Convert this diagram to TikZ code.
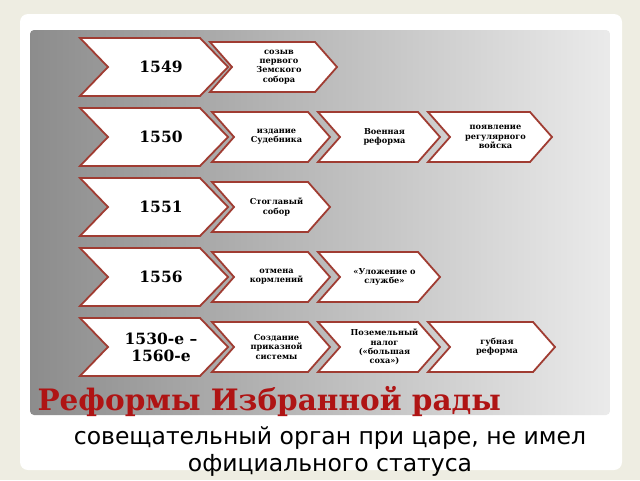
\documentclass[tikz,border=0pt]{standalone}
\usepackage{fontspec}
\setmainfont{DejaVu Serif}
\newfontfamily\subfont{DejaVu Sans}
\begin{document}
\begin{tikzpicture}[x=1pt,y=-1pt,
  chevline/.style={draw={rgb,255:red,160;green,60;blue,50},line width=1.8pt,fill=white,line join=miter},
  yeartext/.style={font=\bfseries\fontsize{15.5}{17}\selectfont,align=center},
  smalltext/.style={font=\bfseries\fontsize{8.2}{9.3}\selectfont,align=center}]
\useasboundingbox (0,0) rectangle (640,480);
\fill[black!8!white!95!yellow] (0,0) rectangle (640,480);
\fill[white,rounded corners=8pt] (20,14) rectangle (622,470);
\shade[left color=black!45,right color=black!8,rounded corners=4pt] (30,30) rectangle (610,415);
\newcommand\chev[8]{%
  \draw[chevline] (#2,#4-#5) -- (#3-#6,#4-#5) -- (#3,#4) -- (#3-#6,#4+#5) -- (#2,#4+#5) -- (#2+#6,#4) -- cycle;
  \node[#7] (#1) at ({(#2+#3)/2+#6/4},#4) {#8};}
\chev{y1}{80}{228}{67}{29}{28}{yeartext}{1549}
\chev{y2}{80}{228}{137}{29}{28}{yeartext}{1550}
\chev{y3}{80}{228}{207}{29}{28}{yeartext}{1551}
\chev{y4}{80}{228}{277}{29}{28}{yeartext}{1556}
\chev{y5}{80}{228}{347}{29}{28}{yeartext}{1530-е –\\1560-е}
\chev{a1}{210}{337}{67}{25}{22}{smalltext}{созыв\\первого\\Земского\\собора}
\chev{b1}{212}{330}{137}{25}{22}{smalltext}{издание\\Судебника}
\chev{b2}{318}{440}{137}{25}{22}{smalltext}{Военная\\реформа}
\chev{b3}{428}{552}{137}{25}{22}{smalltext}{появление\\регулярного\\войска}
\chev{c1}{212}{330}{207}{25}{22}{smalltext}{Стоглавый\\собор}
\chev{d1}{212}{330}{277}{25}{22}{smalltext}{отмена\\кормлений}
\chev{d2}{318}{440}{277}{25}{22}{smalltext}{«Уложение о\\службе»}
\chev{e1}{212}{330}{347}{25}{22}{smalltext}{Создание\\приказной\\системы}
\chev{e2}{318}{440}{347}{25}{22}{smalltext}{Поземельный\\налог\\(«большая\\соха»)}
\chev{e3}{428}{555}{347}{25}{22}{smalltext}{губная\\реформа}
\node[anchor=west,text={rgb,255:red,175;green,20;blue,20},font=\bfseries\fontsize{29.5}{32}\selectfont] (title) at (34,402) {Реформы Избранной рады};
\node[font=\subfont\fontsize{23.5}{27}\selectfont,align=center] (sub) at (330,452) {совещательный орган при царе, не имел\\официального статуса};
\end{tikzpicture}
\end{document}
